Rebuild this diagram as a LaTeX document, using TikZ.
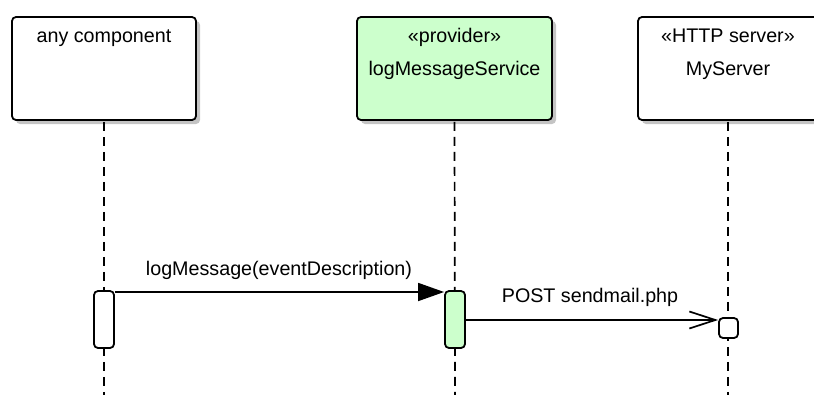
\documentclass[tikz,border=0pt]{standalone}
\usepackage{fontspec}
\setmainfont{Liberation Sans}
\usetikzlibrary{arrows.meta}
\definecolor{provgreen}{HTML}{CCFFCC}
\definecolor{shadowgray}{HTML}{C4C4C4}
\tikzset{
  lifebox/.style={draw=black, line width=1.8pt, rounded corners=4pt, fill=white, inner sep=0pt},
  boxshadow/.style={fill=shadowgray, rounded corners=4pt, inner sep=0pt, draw=none},
  actbox/.style={draw=black, line width=1.8pt, rounded corners=4pt, fill=white, inner sep=0pt, minimum width=20pt},
  lifeline/.style={draw=black, line width=1.7pt, dash pattern=on 9pt off 6pt},
  msgline/.style={draw=black, line width=1.7pt},
  lbl/.style={font=\fontsize{19.7}{23}\selectfont, inner sep=0pt, anchor=base},
}
\begin{document}
\begin{tikzpicture}[x=1pt, y=-1pt]
\useasboundingbox (0,0) rectangle (814,394);
\clip (0,0) rectangle (814,394);

% drop shadows of the three participant heads
\node[boxshadow, minimum width=184pt, minimum height=103pt] at (108,72.5) {};
\node[boxshadow, minimum width=195pt, minimum height=103pt] at (458.5,72.5) {};
\node[boxshadow, minimum width=180pt, minimum height=103pt] at (732,72.5) {};

% participant heads
\node[lifebox, minimum width=184pt, minimum height=103pt] (comp) at (104,68.5) {};
\node[lifebox, fill=provgreen, minimum width=195pt, minimum height=103pt] (svc) at (454.5,68.5) {};
\node[lifebox, minimum width=180pt, minimum height=103pt] (srv) at (728,68.5) {};

\node[lbl] (compname) at (104,42) {any component};
\node[lbl] (svcst) at (454.5,42) {«provider»};
\node[lbl] (svcname) at (454.5,75) {logMessageService};
\node[lbl] (srvst) at (728,42) {«HTTP server»};
\node[lbl] (srvname) at (728,75) {MyServer};

% lifeline ends
\coordinate (compend) at (104,396);
\coordinate (svcend) at (455,396);
\coordinate (srvend) at (728,396);

\draw[lifeline] (comp.south) ++(0,0.9) -- (compend);
\draw[lifeline] (svc.south) ++(0,0.9) -- (svcend);
\draw[lifeline] (srv.south) ++(0,0.9) -- (srvend);

% activations
\node[actbox, minimum height=57pt] (compact) at (104,319.5) {};
\node[actbox, fill=provgreen, minimum height=57pt] (svcact) at (455,319.5) {};
\node[actbox, minimum width=19pt, minimum height=20pt] (srvact) at (728.5,328) {};

% messages
\draw[msgline, -{Triangle[length=26pt, width=18pt]}] (compact.east |- 0,292) -- (svcact.west |- 0,292);
\node[lbl] (m1) at (279,275) {logMessage(eventDescription)};

\draw[msgline, -{Straight Barb[length=26pt, width=17pt, line width=1.7pt]}] (svcact.east |- 0,320) -- (srvact.west |- 0,320);
\node[lbl] (m2) at (590,302) {POST sendmail.php};
\end{tikzpicture}
\end{document}
